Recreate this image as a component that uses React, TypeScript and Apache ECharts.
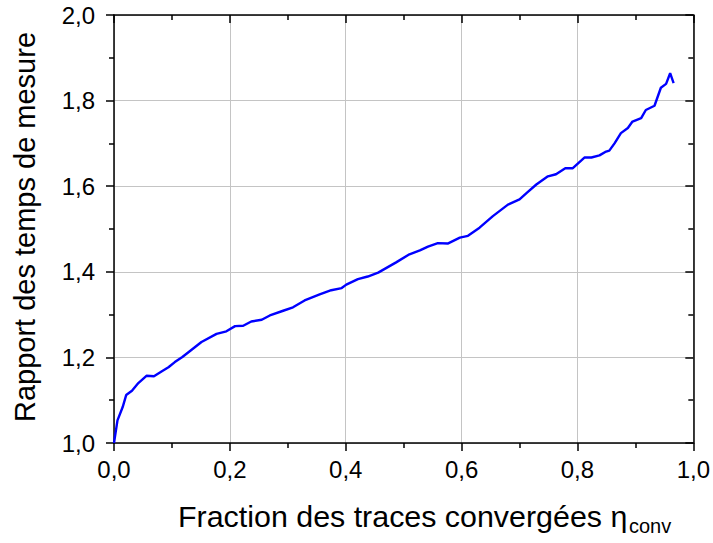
import React, { useEffect, useRef } from "react";
import * as echarts from "echarts";

const fractionX: number[] = [
  0, 0.006, 0.015, 0.021, 0.031, 0.042, 0.056, 0.069, 0.082, 0.094, 0.105, 0.118,
  0.134, 0.151, 0.177, 0.194, 0.209, 0.223, 0.237, 0.255, 0.269, 0.292, 0.309,
  0.329, 0.355, 0.375, 0.393, 0.401, 0.421, 0.438, 0.456, 0.487, 0.51, 0.528,
  0.542, 0.559, 0.576, 0.597, 0.611, 0.631, 0.654, 0.68, 0.7, 0.712, 0.729,
  0.749, 0.763, 0.779, 0.792, 0.812, 0.824, 0.838, 0.848, 0.855, 0.864, 0.875,
  0.887, 0.895, 0.91, 0.918, 0.933, 0.944, 0.953, 0.96, 0.966,
];

const ratioY: number[] = [
  1.0, 1.053, 1.084, 1.112, 1.122, 1.14, 1.157, 1.156, 1.167, 1.177, 1.189, 1.201,
  1.218, 1.236, 1.255, 1.261, 1.273, 1.274, 1.284, 1.288, 1.298, 1.309, 1.317,
  1.333, 1.347, 1.357, 1.362, 1.37, 1.383, 1.389, 1.398, 1.422, 1.441, 1.45,
  1.459, 1.467, 1.466, 1.48, 1.484, 1.503, 1.53, 1.557, 1.569, 1.584, 1.604,
  1.623, 1.628, 1.642, 1.642, 1.667, 1.667, 1.672, 1.68, 1.683, 1.7, 1.724,
  1.736, 1.751, 1.759, 1.778, 1.788, 1.83, 1.839, 1.864, 1.841,
];

const xTickLabels: string[] = ["0,0", "0,2", "0,4", "0,6", "0,8", "1,0"];
const yTickLabels: string[] = ["1,0", "1,2", "1,4", "1,6", "1,8", "2,0"];

const xTitle = "Fraction des traces convergées η";
const xTitleSub = "conv";
const yTitle = "Rapport des temps de mesure";

const FONT = "'Liberation Sans', Arial, sans-serif";

export default function App() {
  const ref = useRef<HTMLDivElement>(null);

  useEffect(() => {
    if (!ref.current) return;
    const chart = echarts.init(ref.current, undefined, { renderer: "svg" });

    const fmt = (labels: string[], min: number, step: number) => (v: number) => {
      const i = Math.round((v - min) / step);
      return labels[i] ?? "";
    };

    const axisLine = { show: true, onZero: false, lineStyle: { color: "#000", width: 1.5 } };
    const tickStyle = { color: "#000", width: 1.5 };

    const option: any = {
      animation: false,
      backgroundColor: "#fff",
      grid: { left: 114, right: 19, top: 15, bottom: 100, containLabel: false },
      xAxis: [
        {
          type: "value",
          min: 0,
          max: 1,
          interval: 0.2,
          position: "bottom",
          axisLine,
          axisTick: { show: true, inside: false, length: 8, lineStyle: tickStyle },
          minorTick: { show: true, splitNumber: 2, length: 5, lineStyle: tickStyle },
          axisLabel: {
            show: true,
            formatter: fmt(xTickLabels, 0, 0.2),
            fontFamily: FONT,
            fontSize: 24,
            color: "#000",
            margin: 14,
          },
          splitLine: { show: true, lineStyle: { color: "#c4c4c4", width: 1 } },
        },
        {
          type: "value",
          min: 0,
          max: 1,
          interval: 0.2,
          position: "top",
          axisLine,
          axisTick: { show: true, inside: true, length: 8, lineStyle: tickStyle },
          minorTick: { show: true, splitNumber: 2, length: 5, lineStyle: tickStyle },
          axisLabel: { show: false },
          splitLine: { show: false },
        },
      ],
      yAxis: [
        {
          type: "value",
          min: 1,
          max: 2,
          interval: 0.2,
          position: "left",
          axisLine,
          axisTick: { show: true, inside: false, length: 8, lineStyle: tickStyle },
          minorTick: { show: true, splitNumber: 2, length: 5, lineStyle: tickStyle },
          axisLabel: {
            show: true,
            formatter: fmt(yTickLabels, 1, 0.2),
            fontFamily: FONT,
            fontSize: 24,
            color: "#000",
            margin: 19,
          },
          splitLine: { show: true, lineStyle: { color: "#c4c4c4", width: 1 } },
        },
        {
          type: "value",
          min: 1,
          max: 2,
          interval: 0.2,
          position: "right",
          axisLine,
          axisTick: { show: true, inside: true, length: 8, lineStyle: tickStyle },
          minorTick: { show: true, splitNumber: 2, length: 5, lineStyle: tickStyle },
          axisLabel: { show: false },
          splitLine: { show: false },
        },
      ],
      series: [
        {
          type: "line",
          xAxisIndex: 0,
          yAxisIndex: 0,
          data: fractionX.map((x, i) => [x, ratioY[i]]),
          showSymbol: false,
          symbol: "none",
          lineStyle: { color: "#0000ff", width: 2.4 },
          itemStyle: { color: "#0000ff" },
          clip: true,
        },
      ],
      graphic: [
        {
          type: "text",
          x: 25,
          y: 227,
          rotation: Math.PI / 2,
          style: {
            text: yTitle,
            fontFamily: FONT,
            fontSize: 29,
            fill: "#000",
            align: "center",
            verticalAlign: "middle",
          },
        },
        {
          type: "text",
          x: 178,
          y: 516,
          style: {
            text: xTitle,
            fontFamily: FONT,
            fontSize: 30.4,
            fill: "#000",
            align: "left",
            verticalAlign: "middle",
          },
        },
        {
          type: "text",
          x: 629,
          y: 526,
          style: {
            text: xTitleSub,
            fontFamily: FONT,
            fontSize: 20,
            fill: "#000",
            align: "left",
            verticalAlign: "middle",
          },
        },
      ],
    };

    chart.setOption(option);
    return () => chart.dispose();
  }, []);

  return <div ref={ref} style={{ width: 713, height: 543, position: "absolute", left: 0, top: 0 }} />;
}
